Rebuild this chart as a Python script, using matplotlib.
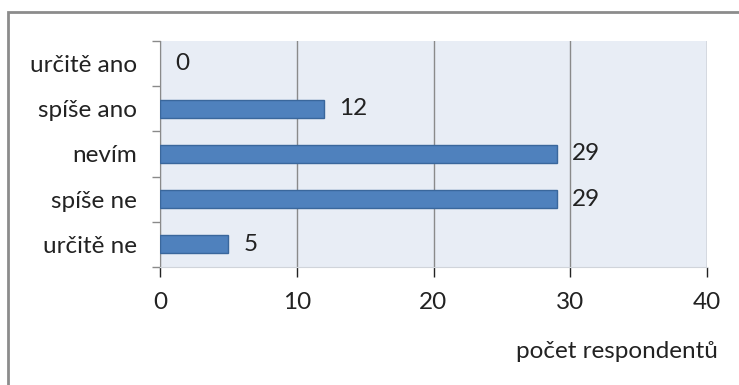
import matplotlib.pyplot as plt
from matplotlib.patches import Rectangle

# Survey answers, top to bottom
categories = ['určitě ano', 'spíše ano', 'nevím', 'spíše ne', 'určitě ne']
counts = [0, 12, 29, 29, 5]
xticks = [0, 10, 20, 30, 40]

plt.rcParams['font.family'] = ['Lato', 'DejaVu Sans']
fs = 17.5

fig = plt.figure(figsize=(7.39, 3.85), dpi=100)
ax = fig.add_axes([160 / 739, 1 - 267 / 385, 547 / 739, 226 / 385])

# outer frame (top and left edges only show)
fig.patches.append(Rectangle((8 / 739, -0.1), 1.2, (385 - 12) / 385 + 0.1,
                             transform=fig.transFigure, fill=False,
                             edgecolor='#8c8c8c', linewidth=2))

ypos = list(range(len(categories)))[::-1]
bars = ax.barh(ypos, counts, height=0.4, color='#4f81bd',
               edgecolor='#3a679c', linewidth=1, zorder=3)
for b, c in zip(bars, counts):
    if c == 0:
        b.set_linewidth(0)
ax.bar_label(bars, labels=[str(c) for c in counts], padding=11,
             fontsize=fs, color='#222222')

ax.set_facecolor('#e8edf5')
ax.set_xlim(0, 40)
ax.set_ylim(-0.5, len(categories) - 0.5)
ax.set_xticks(xticks)
ax.set_xticklabels([str(t) for t in xticks], fontsize=fs)
ax.set_yticks(ypos)
ax.set_yticklabels(categories, fontsize=fs)
ax.set_yticks([i - 0.5 for i in range(len(categories) + 1)], minor=True)

ax.grid(axis='x', color='#8a8a8a', linewidth=1, zorder=1)
ax.tick_params(axis='y', which='major', length=0, pad=16.5)
ax.tick_params(axis='y', which='minor', length=6, color='#8a8a8a', width=1)
ax.tick_params(axis='x', length=7, color='#8a8a8a', width=1, pad=11)
ax.tick_params(colors='#222222', which='major')

for side in ['top', 'right']:
    ax.spines[side].set_visible(False)
ax.spines['left'].set_color('#8a8a8a')
ax.spines['bottom'].set_color('#d0d4da')

fig.text(718 / 739, 1 - 352 / 385, 'počet respondentů', fontsize=fs,
         ha='right', va='center', color='#222222')

fig.savefig('out.png', dpi=100)
